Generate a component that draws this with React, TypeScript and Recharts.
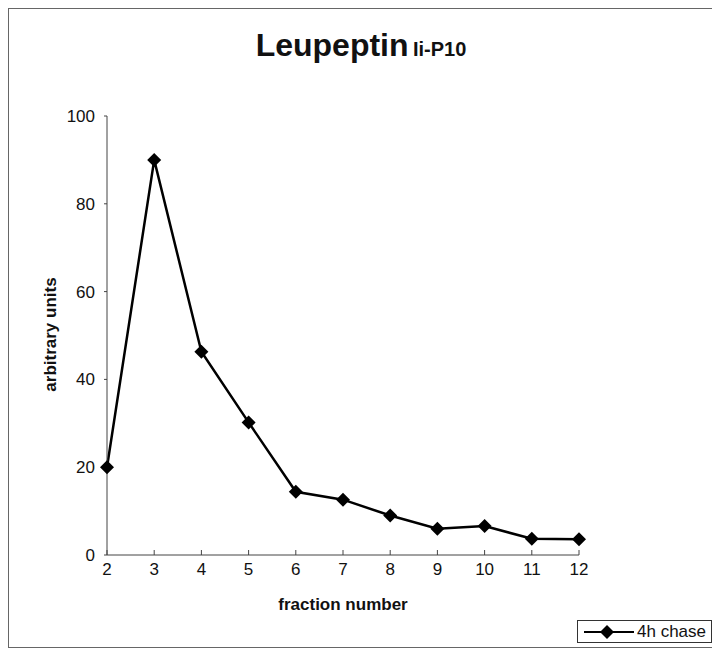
import { Label, Line, LineChart, XAxis, YAxis } from "recharts";

const fractions = [2, 3, 4, 5, 6, 7, 8, 9, 10, 11, 12];
const chase4h = [20, 90, 46.3, 30.2, 14.4, 12.6, 9, 6, 6.6, 3.7, 3.6];
const xTicks = [2, 3, 4, 5, 6, 7, 8, 9, 10, 11, 12];
const yTicks = [0, 20, 40, 60, 80, 100];

const data = fractions.map((f, i) => ({ fraction: f, chase: chase4h[i] }));

const FONT = "'Liberation Sans', Arial, Helvetica, sans-serif";

const Diamond = (props: any) => {
  const { cx, cy, index } = props;
  if (cx == null || cy == null) return null;
  const r = 7;
  return (
    <polygon
      key={`d-${index}`}
      points={`${cx},${cy - r} ${cx + r},${cy} ${cx},${cy + r} ${cx - r},${cy}`}
      fill="#000"
    />
  );
};

const LegendBox = () => (
  <div
    style={{
      position: "absolute",
      left: 568,
      top: 611,
      border: "1px solid #333",
      display: "flex",
      alignItems: "center",
      padding: "0 5px 0 4px",
      fontFamily: FONT,
      fontSize: 17,
      color: "#111",
      background: "#fff",
      height: 23,
      boxSizing: "border-box",
    }}
  >
    <svg width={54} height={16}>
      <line x1={2} y1={8} x2={52} y2={8} stroke="#000" strokeWidth={2} />
      <polygon points="25,1 32,8 25,15 18,8" fill="#000" />
    </svg>
    <span style={{ marginLeft: 1 }}>4h chase</span>
  </div>
);

export default function App() {
  return (
    <div
      style={{
        position: "relative",
        width: 706,
        height: 640,
        border: "1px solid #666",
        boxSizing: "border-box",
        background: "#fff",
        fontFamily: FONT,
      }}
    >
      <div
        style={{
          position: "absolute",
          top: 18,
          left: 0,
          width: "100%",
          textAlign: "center",
          fontWeight: "bold",
          color: "#111",
        }}
      >
        <span style={{ fontSize: 32 }}>Leupeptin</span>{" "}
        <span style={{ fontSize: 20 }}>Ii-P10</span>
      </div>
      <LineChart
        width={704}
        height={638}
        data={data}
        margin={{ top: 107, right: 134, left: 38, bottom: 62 }}
        style={{ position: "absolute", top: 0, left: 0 }}
      >
        <XAxis
          dataKey="fraction"
          type="number"
          domain={[2, 12]}
          ticks={xTicks}
          interval={0}
          height={30}
          tickSize={-5}
          tickMargin={13}
          stroke="#444"
          tick={{ fill: "#111", fontSize: 17, fontFamily: FONT }}
          axisLine={{ stroke: "#444" }}
          tickLine={{ stroke: "#444" }}
        >
          <Label
            content={({ viewBox }: any) => (
              <text
                x={viewBox.x + viewBox.width / 2}
                y={viewBox.y + 55}
                textAnchor="middle"
                fontFamily={FONT}
                fontWeight="bold"
                fontSize={17}
                fill="#111"
              >
                fraction number
              </text>
            )}
          />
        </XAxis>
        <YAxis
          type="number"
          domain={[0, 100]}
          ticks={yTicks}
          interval={0}
          width={60}
          tickSize={3}
          tickMargin={9}
          stroke="#444"
          tick={{ fill: "#111", fontSize: 17, fontFamily: FONT }}
          axisLine={{ stroke: "#444" }}
          tickLine={{ stroke: "#444" }}
        >
          <Label
            content={({ viewBox }: any) => {
              const cx = viewBox.x + 3;
              const cy = viewBox.y + viewBox.height / 2 - 1;
              return (
                <text
                  x={cx}
                  y={cy}
                  transform={`rotate(-90 ${cx} ${cy})`}
                  textAnchor="middle"
                  dominantBaseline="central"
                  fontFamily={FONT}
                  fontWeight="bold"
                  fontSize={17}
                  fill="#111"
                >
                  arbitrary units
                </text>
              );
            }}
          />
        </YAxis>
        <Line
          type="linear"
          dataKey="chase"
          stroke="#000"
          strokeWidth={2.5}
          dot={Diamond}
          activeDot={false}
          isAnimationActive={false}
        />
      </LineChart>
      <LegendBox />
    </div>
  );
}
